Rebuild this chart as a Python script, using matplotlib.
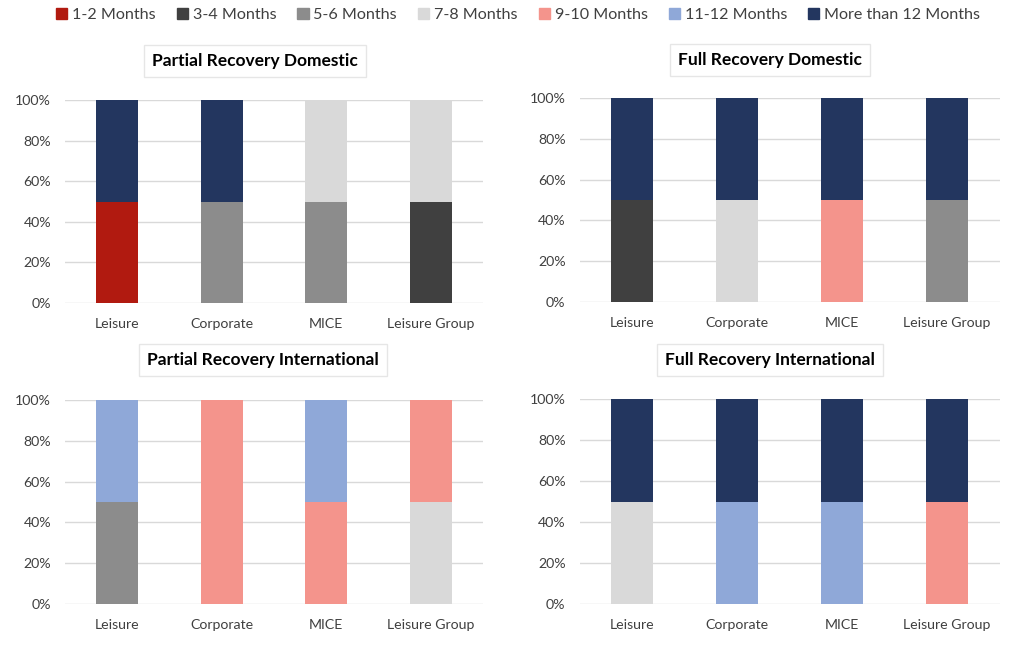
import numpy as np
import matplotlib.pyplot as plt
from matplotlib.ticker import PercentFormatter

plt.rcParams['font.family'] = ['Lato', 'DejaVu Sans']

categories = ['Leisure', 'Corporate', 'MICE', 'Leisure Group']
buckets = ['1-2 Months', '3-4 Months', '5-6 Months', '7-8 Months',
           '9-10 Months', '11-12 Months', 'More than 12 Months']
colors = ['#B11A10', '#404040', '#8C8C8C', '#D9D9D9', '#F4948C', '#8FA8D8', '#23365F']

# share (%) per bucket, one row per category
partial_domestic = [
    [50, 0, 0, 0, 0, 0, 50],
    [0, 0, 50, 0, 0, 0, 50],
    [0, 0, 50, 50, 0, 0, 0],
    [0, 50, 0, 50, 0, 0, 0],
]
full_domestic = [
    [0, 50, 0, 0, 0, 0, 50],
    [0, 0, 0, 50, 0, 0, 50],
    [0, 0, 0, 0, 50, 0, 50],
    [0, 0, 50, 0, 0, 0, 50],
]
partial_international = [
    [0, 0, 50, 0, 0, 50, 0],
    [0, 0, 0, 0, 100, 0, 0],
    [0, 0, 0, 0, 50, 50, 0],
    [0, 0, 0, 50, 50, 0, 0],
]
full_international = [
    [0, 0, 0, 50, 0, 0, 50],
    [0, 0, 0, 0, 0, 50, 50],
    [0, 0, 0, 0, 0, 50, 50],
    [0, 0, 0, 0, 50, 0, 50],
]

W, H = 1024, 649
fig = plt.figure(figsize=(W / 100, H / 100), dpi=100)

# (data, title, left, right, top, bottom, title_x, title_y) in pixels
panels = [
    (partial_domestic, 'Partial Recovery Domestic', 65, 483, 100, 303, 255, 61),
    (full_domestic, 'Full Recovery Domestic', 579.5, 999.5, 98, 302, 770, 60),
    (partial_international, 'Partial Recovery International', 65, 483, 400, 604, 263, 360),
    (full_international, 'Full Recovery International', 579.5, 999.5, 399, 604, 770, 360),
]

x = np.arange(len(categories))
for data, title, l, r, t, b, tx, ty in panels:
    ax = fig.add_axes([l / W, (H - b) / H, (r - l) / W, (b - t) / H])
    vals = np.array(data, dtype=float)
    bottom = np.zeros(len(categories))
    for j, name in enumerate(buckets):
        ax.bar(x, vals[:, j], 0.4, bottom=bottom, color=colors[j], label=name, zorder=3)
        bottom += vals[:, j]
    ax.set_xlim(-0.5, 3.5)
    ax.set_ylim(0, 100)
    ax.set_yticks(np.arange(0, 101, 20))
    ax.yaxis.set_major_formatter(PercentFormatter(decimals=0))
    ax.set_xticks(x)
    ax.set_xticklabels(categories)
    ax.grid(axis='y', color='#D9D9D9', linewidth=1, zorder=0)
    ax.tick_params(length=0, labelsize=10.2, colors='#404040')
    ax.tick_params(axis='y', pad=10)
    ax.tick_params(axis='x', pad=11)
    for s in ax.spines.values():
        s.set_visible(False)
    ax.set_axisbelow(True)
    fig.text(tx / W, (H - ty) / H, title, ha='center', va='center',
             fontsize=12.5, fontweight='bold', color='black',
             bbox=dict(boxstyle='square,pad=0.45', fc='white', ec='#E6E6E6', lw=1))

handles = [plt.Rectangle((0, 0), 1, 1, color=c) for c in colors]
fig.legend(handles, buckets, loc='center', bbox_to_anchor=(518 / W, (H - 15) / H),
           ncol=7, frameon=False, fontsize=11.6, handlelength=0.7, handleheight=0.7,
           handletextpad=0.3, columnspacing=1.3, labelcolor='#404040')

fig.savefig('out.png', dpi=100)
